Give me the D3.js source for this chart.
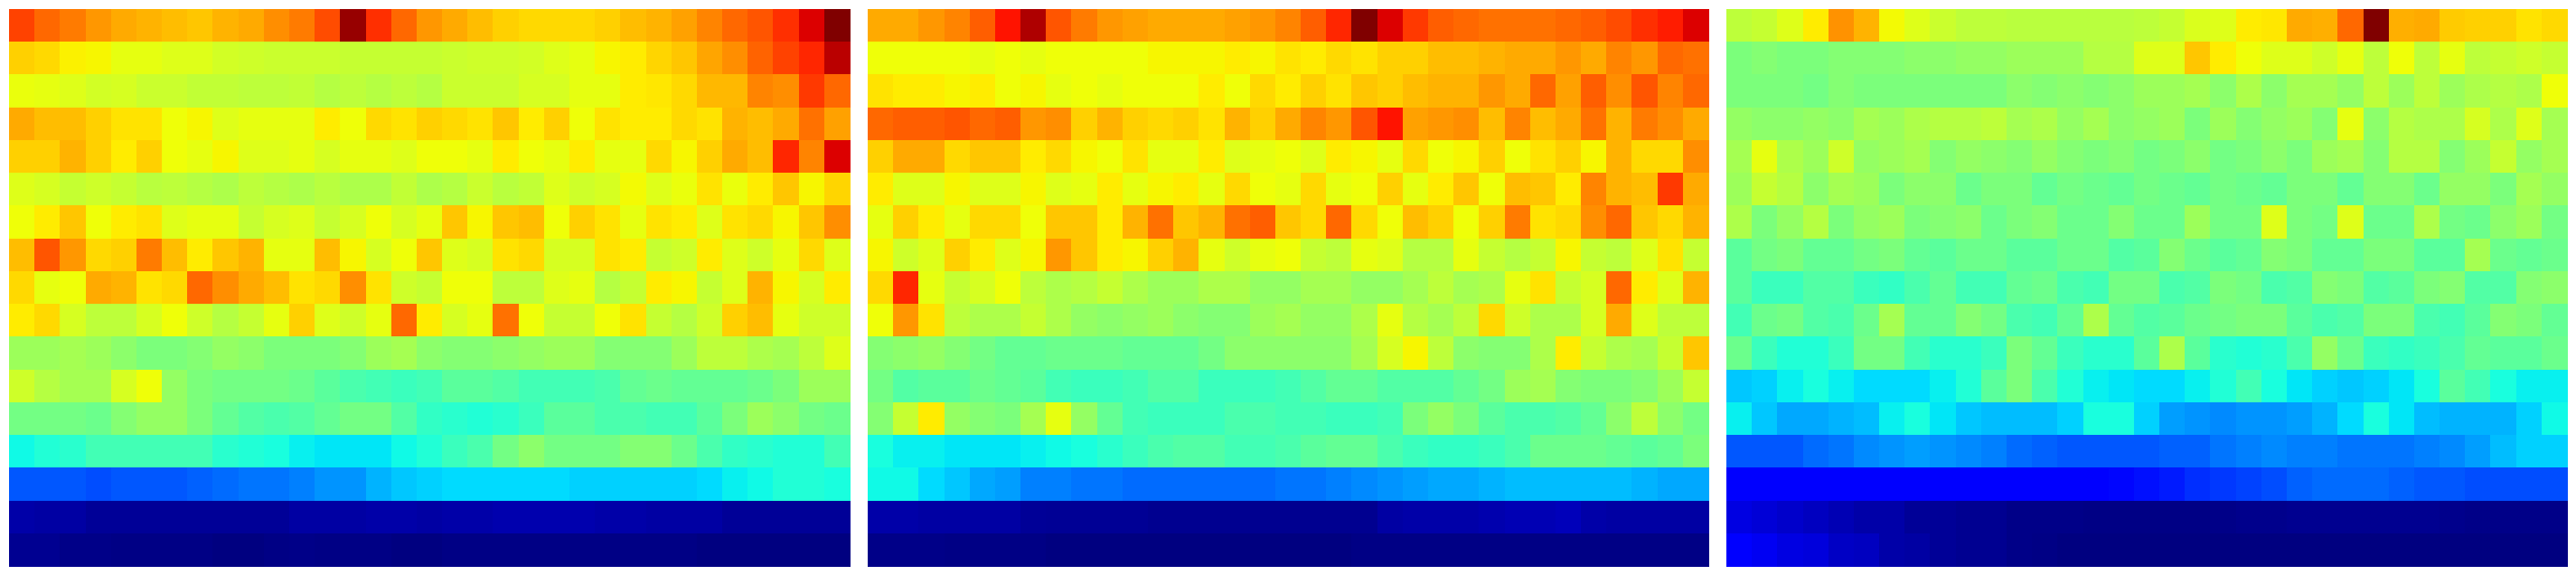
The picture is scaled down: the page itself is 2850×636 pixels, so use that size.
<!DOCTYPE html>
<html>
<head>
<meta charset="utf-8">
<script src="https://cdn.jsdelivr.net/npm/d3@7/dist/d3.min.js"></script>
<style>html,body{margin:0;padding:0;background:#fff}svg{display:block}</style>
</head>
<body>
<svg id="chart" width="2850" height="636"></svg>
<script>
const panelA = [
[84,80,78,75,73,72,71,70,72,73,76,78,83,98,86,80,75,73,71,69,68,68,68,69,71,72,74,77,80,82,86,92,100],
[69,68,65.5,65,63,63,62,62,60.5,60,59.5,59.5,59.5,59,59,59,59,59.5,60,60,60.5,62,63,65,66,68.5,70,73.5,76,80.5,84,87,95],
[63.5,63,62,60.5,61,59.5,59.5,58.5,58.5,58,58,58.5,57,58,57,58,57,59.5,59.5,59.5,61,61,63,63,66,66.5,68,71.5,71.5,77,76,85,80],
[73,71,71,69,67,67,64,65,62,63,63,63,66,64,68,67,69,68,67,70,66,69,64,67,66,66,68,67,72,71,73,79,74],
[69,69,72,69,66,69,64,63,65,62,62,63,61,63,63,62,64,64,63,66,64,63,66,63,63,68,65,69,73,71,87,77,92],
[62,61,59,60,59,57.5,58,57,56,58,57,56,57.5,56,56,58.5,56,57,59.5,57.5,58.5,62,60,61,64.5,62,63.5,67,63.5,66,70,65,68.5],
[64,66,70,64,66,67,62,63,63,59,61,62,59,61,64,61,63,70,65,70,71,64,69,67,63,67,66,62,67,68,65,70,76],
[71,82,75,68,69,78,71,66,70,72,63,63,71,65,61,64,70,62,61,67,68,61,61,67,66,59,60,66,62,60,63,68,62],
[68,63,64,73,72,67,68,80,76,73,71,67,68,76,67,60,59,64,64,58,58,62,63,57,59,66,65,59,62,72,65,61,66],
[66,68,61,58,58,61,64,60,57,59,63,69,62,60,63,80,66,61,63,79,64,59,59,64,67,59,57,60,69,71,63,60,60],
[54,54,55,54,52,50,50,51,53,52,50,50,50,51,54,55,52,51,51,52,53,54,54,51,51,51,54,58,58,56,55,58,62],
[60,57,55,55,61,64,53,50,49,49,49,48,46,44,43,42,43,46,46,45,43,43,43,44,47,48,47,47,47,48,50,54,54],
[49,49,49,48,51,53,53,50,47,45,44,45,47,49,49,45,41,40,39,40,42,46,46,44,44,43,43,46,50,54,52,49,48],
[37,39,40,43,43,43,43,43,40,39,38,36,35,35,35,37,39,42,44,49,52,49,49,49,51,51,48,44,41,40,39,39,43],
[21,21,21,20,21,21,21,22,23,24,24,25,27,27,30,32,33,34,34,34,34,34,33,33,33,33,33,34,36,37,39,39,38],
[3.5,3,3,2,2,2,2,2,2,2,2,3,3,3,3.5,3.5,3,3.5,3.5,4,4,4,4,3.5,3.5,3,3,3,2,2,2,2,2],
[1.5,1.5,0.7,0.7,0.4,0.4,0.4,0.4,0,0,0.4,0.7,0.4,0.4,0.4,0,0,0.4,0.4,0.4,0.4,0.4,0.4,0.4,0.4,0.4,0.4,0,0,0,0,0,0]
];
const panelB = [
[73,73,75,77,81,89,96,82,78,75,74,73,73,73,74,75,77,81,87,100,92,85,81,80,79,79,79,80,81,83,86,88,92],
[64,64,64,64,63,64,63,64,64,64,64,65,65,65,66,65,67,66,68,67,69,69,71,71,72,73,73,75,73,77,75,80,79],
[67,66,66,65,66,64,65,63,64,63,64,64,64,66,64,68,66,69,67,70,69,71,72,72,75,73,80,74,81,76,82,77,80],
[80,81,81,82,80,81,75,76,69,72,69,68,69,67,72,69,73,77,75,82,89,74,75,76,71,77,71,73,79,72,78,76,73],
[69,73,73,68,70,70,66,68,65,64,67,63,63,66,62,63,64,62,66,65,63,68,64,65,69,64,67,69,65,72,68,68,76],
[66,62,62,65,62,62,65,62,63,66,63,65,66,63,68,64,63,68,63,64,69,63,66,70,64,71,70,66,77,72,71,85,73],
[63,69,66,63,68,68,64,70,70,66,72,79,70,72,79,81,70,68,80,68,64,71,69,64,69,78,67,68,76,80,70,68,72],
[65,60,62,69,66,62,65,75,70,66,65,69,72,63,60,63,64,59,58,63,62,57,57,63,59,57,59,65,59,58,62,67,59],
[68,87,63,59,61,64,58,56,57,59,56,54,54,56,56,53,53,55,55,53,53,55,58,55,56,63,67,59,61,80,66,62,72],
[64,75,67,58,56,56,59,56,53,52,53,54,52,51,51,54,55,53,53,56,63,57,55,58,68,60,56,56,61,73,62,58,58],
[51,52,53,51,49,47,47,48,48,48,47,47,47,49,52,52,52,52,52,55,61,65,58,52,51,51,56,66,59,56,55,59,70],
[49,45,46,46,48,47,46,43,42,42,43,45,45,42,42,42,43,45,47,47,45,45,45,47,49,54,55,51,50,50,51,54,59],
[51,59,66,53,51,50,55,63,53,47,43,42,42,42,44,44,43,43,42,42,43,50,53,50,46,44,44,45,47,52,58,52,49],
[38,36,36,35,35,35,36,37,38,40,42,44,45,45,43,43,44,46,47,47,44,42,41,41,42,44,48,48,48,47,46,47,50],
[37,37,34,32,29,28,25,25,24,24,23,23,23,23,23,23,24,24,25,26,27,28,29,29,30,31,31,31,31,31,30,29,29],
[3.5,3.5,3,3,3,3,2,1.8,1.8,1.8,1.8,1.4,1.4,1.4,1.4,1.4,1.4,1.4,1.4,1.4,3,3.5,3.5,3.5,4,4.5,4.5,5,3.5,3,3,3,3],
[0.7,0.7,0.7,0.4,0.4,0.4,0.4,0,0,0,0,0,0,0,0,0,0,0,0,0.4,0.4,0.4,0.4,0.4,0.4,0.4,0.4,0.4,0.4,0.4,0.4,0.4,0.4]
];
const panelC = [
[58,59,62,66,75.5,72,64.5,62,59.5,58,58,57.5,57.5,57.5,57.5,57.5,58,59,61.5,62,66,66.5,73,72.5,80,100,72.5,73,69.5,69,69,67,68],
[50,51,50,50,51,51,51,52,52,53,53,54,54,54,57,57,62,62,70,66,64,62,62,60,63,58,64,58,63,58,59,60,59],
[50,50,50,49,51,50,50,50,50,50,50,52,51,52,51,52,54,54,55,52,56,52,55,55,53,58,54,58,54,56,57,56,64],
[53,52,52,53,52,55,54,56,57,57,58,55,56,53,55,52,53,54,50,54,51,53,54,51,63,52,57,56,56,61,56,62,55],
[55,63,56,54,60,53,54,55,51,53,52,51,53,51,50,51,49,50,52,49,50,52,50,54,55,51,57,57,51,54,59,53,55],
[54,59,57,52,55,54,50,52,52,48,50,50,47,49,48,47,49,48,47,49,48,47,50,50,47,51,51,48,53,53,50,55,53],
[56,50,53,57,50,53,54,50,51,52,48,50,51,48,48,51,48,48,54,49,49,62,50,49,62,48,48,56,49,48,52,54,49],
[46,49,50,47,47,49,50,47,46,48,48,46,46,48,48,45,46,51,48,46,47,51,50,47,47,50,50,46,46,55,48,47,48],
[46,42,42,45,45,42,41,44,47,43,43,47,48,44,43,49,49,44,45,50,49,44,45,51,50,45,46,50,51,45,45,51,52],
[43,48,49,45,44,48,55,47,47,51,49,44,43,47,56,47,45,46,48,49,50,50,46,44,45,50,50,44,43,46,51,50,47],
[48,42,39,39,42,49,49,43,40,40,42,50,47,42,40,40,46,56,46,40,39,40,44,53,48,42,41,42,44,47,46,46,48],
[32,33,36,38,36,34,34,34,36,39,46,50,44,39,36,35,34,34,36,39,43,38,35,33,32,33,35,38,46,43,38,36,36],
[36,32,29,29,30,31,36,38,35,32,31,31,31,33,38,38,33,28,27,26,27,27,28,30,34,38,35,31,30,30,30,33,37],
[21,21,21,23,24,26,27,28,27,26,25,23,22,21,21,21,21,22,22,24,25,26,25,25,24,24,24,25,26,28,31,33,33],
[12,12,12,12,12,12,12,12,12,12,12,12,12,12,12,13,14,15,17,18,19,20,22,23,23,23,22,21,21,20,20,20,20],
[8.5,7.5,6.5,5.5,4.5,3.5,3.5,2,2,1.5,1.5,0.7,0.7,0.7,0.4,0.4,0.4,0.4,0.4,0.7,1,1,1.4,1.4,1.4,1.4,1.4,1.4,1,0.7,0.7,0.7,0.7],
[11,10,8.5,8,6,5.5,3.5,3,2,1.5,1.5,0.7,0.4,0,0,0,0,0,0,0,0,0,0,0,0,0,0,0,0,0,0,0,0]
];

const panels = [panelA, panelB, panelC];

// jet colour map, one scale per channel
const jetR = d3.scaleLinear().domain([0, 35, 66, 89, 100]).range([0, 0, 255, 255, 128]);
const jetG = d3.scaleLinear().domain([0, 12.5, 37.5, 64, 91, 100]).range([0, 0, 255, 255, 0, 0]);
const jetB = d3.scaleLinear().domain([0, 11, 34, 65, 100]).range([128, 255, 255, 0, 0]);
const jet = v => `rgb(${Math.round(jetR(v))},${Math.round(jetG(v))},${Math.round(jetB(v))})`;

const svg = d3.select("#chart");
const slot = d3.scaleBand().domain(d3.range(panels.length)).range([0, 2850]);
const panelMargin = 10;
const y = d3.scaleBand().domain(d3.range(panelA.length)).range([panelMargin, 636 - panelMargin]);

panels.forEach((rows, i) => {
  const x = d3.scaleBand().domain(d3.range(rows[0].length))
    .range([slot(i) + panelMargin, slot(i) + slot.bandwidth() - panelMargin]);
  svg.append("g").selectAll("g").data(rows).join("g")
    .selectAll("rect").data((row, r) => row.map((v, c) => ({v, r, c}))).join("rect")
    .attr("x", d => x(d.c))
    .attr("y", d => y(d.r))
    .attr("width", x.bandwidth() + 0.5)
    .attr("height", y.bandwidth() + 0.5)
    .attr("fill", d => jet(d.v))
    .attr("shape-rendering", "crispEdges");
});
</script>
</body>
</html>
